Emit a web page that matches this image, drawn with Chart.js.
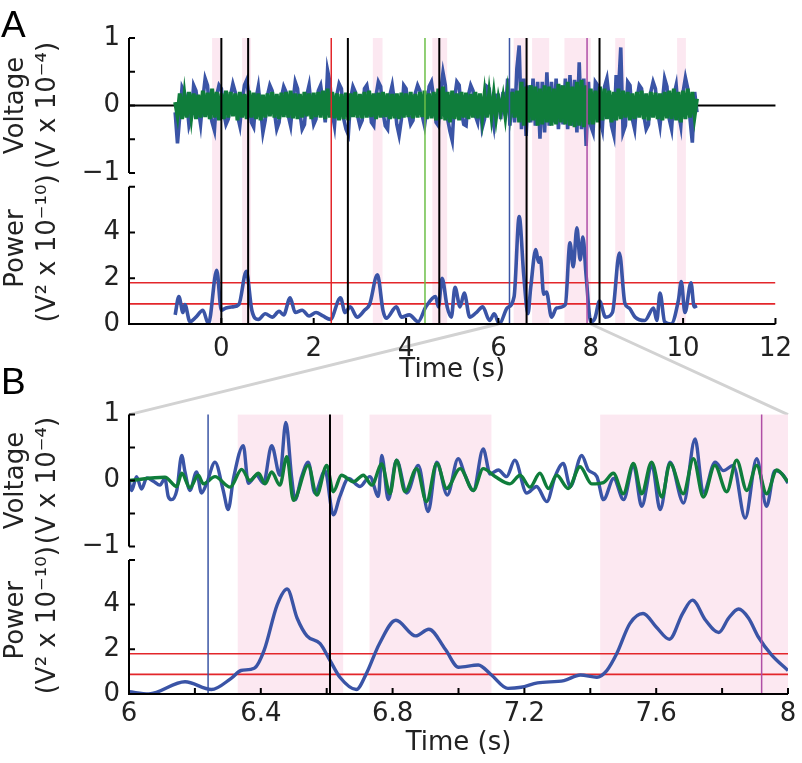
<!DOCTYPE html>
<html lang="en">
<head>
    <meta charset="UTF-8">
    <title>Voltage and power</title>
    <script src="https://cdn.jsdelivr.net/npm/chart.js"></script>
    <style>
        body { margin: 0; background: #fff; }
        #wrap { position: relative; width: 802px; height: 763px; overflow: hidden; }
        canvas { position: absolute; left: 0; }
        #links { top: 0; z-index: 0; }
        #chartA { top: 0; z-index: 1; }
        #chartB { top: 390px; z-index: 1; }
        .panel {
            position: absolute; left: 1px; z-index: 2;
            font-family: 'Liberation Sans', Arial, sans-serif; font-size: 37px; color: #000;
        }
    </style>
</head>
<body>
<div id="wrap">
    <canvas id="links" width="802" height="763"></canvas>
    <canvas id="chartA" width="802" height="390"></canvas>
    <canvas id="chartB" width="802" height="373"></canvas>
    <div class="panel" style="top:4px">A</div>
    <div class="panel" style="top:361px">B</div>
</div>
<script>
    // ---- data (time in s, voltage in 1e-4 V, power in 1e-10 V^2) ----
    const voltAStart = -1.0;
    const voltAStep = 0.05;
    const voltRawA = [
        -0.10,-0.56,-0.15,0.27,0.20,0.05,-0.30,-0.18,0.30,0.22,-0.05,-0.28,0.10,0.40,0.30,-0.10,-0.25,-0.37,0.15,0.30,
        0.25,-0.10,-0.28,-0.20,0.15,0.32,0.20,-0.15,-0.30,0.05,0.30,0.38,0.10,-0.25,-0.32,0.10,0.28,-0.05,-0.40,-0.22,
        0.15,0.30,0.22,-0.10,-0.35,-0.25,0.12,0.28,0.20,-0.15,-0.30,0.05,0.35,0.25,-0.10,-0.35,-0.28,0.15,0.30,-0.05,
        -0.28,-0.20,0.22,0.30,0.05,-0.25,0.52,0.35,-0.10,-0.30,0.15,0.32,0.25,-0.20,-0.35,-0.43,0.10,0.28,0.20,-0.15,
        -0.30,-0.22,0.25,0.30,0.10,-0.25,-0.30,0.15,0.35,0.28,-0.10,-0.30,-0.35,0.15,0.30,0.05,-0.28,-0.44,-0.20,0.30,
        0.25,-0.10,-0.28,-0.22,0.18,0.30,0.22,-0.15,-0.30,-0.05,0.28,0.35,0.10,-0.25,-0.30,0.20,0.49,0.30,-0.20,-0.38,
        -0.52,0.10,0.35,0.30,-0.10,-0.28,-0.30,0.15,0.30,0.22,-0.15,-0.25,0.10,-0.33,-0.20,0.28,0.25,-0.10,-0.30,0.15,
        0.15,-0.20,0.20,-0.15,0.40,-0.30,0.25,-0.25,0.55,0.89,-0.35,0.40,-0.45,0.30,-0.25,0.40,-0.30,0.35,-0.49,0.35,
        -0.40,0.49,-0.30,0.35,-0.25,0.40,-0.35,0.30,-0.28,0.40,-0.35,0.45,-0.30,0.38,-0.40,0.64,-0.35,0.40,-0.60,0.35,
        -0.30,-0.40,0.35,0.30,-0.20,-0.35,0.28,0.40,0.10,-0.30,-0.44,0.45,0.20,0.86,-0.40,-0.30,0.35,0.30,-0.20,-0.35,
        0.10,0.30,0.25,-0.15,-0.35,-0.28,0.20,0.35,0.25,-0.10,-0.30,0.05,0.40,0.28,-0.20,-0.35,0.15,0.30,-0.10,-0.30,
        0.20,0.41,0.25,-0.20,-0.55,0.20,-0.10
    ];
    const voltFiltA = [
        0.05,-0.15,0.18,-0.20,0.15,-0.18,0.20,-0.15,0.18,-0.20,0.16,-0.18,0.22,-0.17,0.19,-0.20,0.25,-0.18,0.20,-0.22,
        0.18,-0.20,0.22,-0.18,0.20,-0.16,0.18,-0.22,0.20,-0.18,0.17,-0.20,0.22,-0.18,0.19,-0.20,0.18,-0.22,0.16,-0.18,
        0.18,-0.16,0.20,-0.18,0.17,-0.20,0.19,-0.17,0.20,-0.18,0.22,-0.19,0.18,-0.20,0.17,-0.18,0.20,-0.16,0.18,-0.20,
        0.19,-0.17,0.20,-0.18,0.22,-0.20,0.25,-0.18,0.20,-0.19,0.18,-0.22,0.17,-0.20,0.19,-0.22,0.18,-0.17,0.20,-0.18,
        0.17,-0.19,0.20,-0.18,0.22,-0.17,0.18,-0.20,0.19,-0.18,0.20,-0.17,0.18,-0.20,0.17,-0.19,0.18,-0.20,0.19,-0.18,
        0.18,-0.17,0.20,-0.19,0.17,-0.18,0.20,-0.17,0.22,-0.20,0.18,-0.19,0.20,-0.22,0.25,-0.20,0.28,-0.22,0.20,-0.25,
        0.22,-0.20,0.18,-0.22,0.20,-0.18,0.19,-0.20,0.17,-0.18,0.20,-0.19,0.18,-0.17,0.16,-0.18,0.17,-0.15,0.16,-0.17,
        0.10,-0.08,0.12,-0.15,0.18,-0.12,0.20,-0.18,0.22,-0.25,0.35,-0.30,0.28,-0.25,0.30,-0.22,0.28,-0.30,0.25,-0.28,
        0.30,-0.25,0.28,-0.30,0.25,-0.28,0.32,-0.25,0.30,-0.28,0.35,-0.30,0.28,-0.32,0.35,-0.30,0.38,-0.32,0.30,-0.28,
        0.25,-0.28,0.22,-0.25,0.28,-0.22,0.25,-0.20,0.22,-0.25,0.20,-0.22,0.25,-0.20,0.22,-0.18,0.20,-0.22,0.18,-0.20,
        0.20,-0.18,0.22,-0.20,0.18,-0.22,0.20,-0.18,0.19,-0.20,0.18,-0.22,0.20,-0.19,0.22,-0.20,0.25,-0.22,0.20,-0.25,
        0.22,-0.20,0.25,-0.18,0.20,-0.15,0.10
    ];
    const powerATimes = [-1.0,-0.92,-0.83,-0.79,-0.68,-0.55,-0.4,-0.28,-0.1,0.0,0.1,0.25,0.38,0.54,0.66,0.8,0.95,1.1,1.25,1.35,
        1.49,1.6,1.75,1.9,2.05,2.2,2.36,2.58,2.68,2.79,2.94,3.1,3.21,3.38,3.5,3.57,3.79,3.9,4.07,4.26,
        4.43,4.64,4.7,4.78,4.89,4.98,5.06,5.17,5.26,5.38,5.52,5.66,5.81,5.91,6.02,6.19,6.34,6.45,6.55,6.64,
        6.7,6.81,6.87,6.91,6.98,7.04,7.15,7.26,7.45,7.55,7.62,7.7,7.77,7.83,7.9,8.0,8.09,8.19,8.32,8.47,
        8.62,8.74,8.83,8.96,9.17,9.36,9.43,9.5,9.6,9.74,9.9,9.96,10.04,10.17,10.24,10.3];
    const powerAValues = [0.4,1.2,0.5,0.85,0.1,0.3,0.6,0.0,2.35,0.6,0.7,0.75,0.85,2.3,0.6,0.2,0.45,0.3,0.55,0.4,
        1.15,0.5,0.6,0.35,0.5,0.35,0.2,1.15,0.5,0.75,0.3,0.6,0.85,2.15,0.6,0.25,0.75,0.3,0.4,0.1,
        0.75,1.2,0.75,2.0,0.75,0.3,1.6,0.75,1.35,0.3,0.5,0.75,0.15,0.45,0.0,0.7,1.2,4.7,2.1,0.45,
        1.6,3.25,2.7,2.9,1.3,1.4,0.3,0.7,0.85,3.55,2.5,4.2,2.8,3.8,2.1,0.1,0.25,1.0,0.3,0.5,
        3.1,0.9,0.7,0.3,0.15,0.7,0.15,1.35,0.1,0.0,1.05,1.85,0.5,1.8,0.75,0.8];

    const voltRawBTimes = [6.0,6.008,6.023,6.038,6.054,6.074,6.094,6.109,6.119,6.129,6.145,6.16,6.17,6.185,6.205,6.22,6.236,6.261,6.286,6.301,
        6.317,6.347,6.362,6.387,6.408,6.433,6.458,6.476,6.494,6.504,6.524,6.544,6.564,6.595,6.62,6.64,6.666,6.701,6.731,6.757,
        6.767,6.787,6.812,6.843,6.878,6.908,6.934,6.966,6.999,7.02,7.045,7.075,7.096,7.121,7.146,7.171,7.207,7.237,7.268,7.293,
        7.318,7.339,7.374,7.394,7.42,7.44,7.471,7.501,7.531,7.556,7.587,7.612,7.642,7.683,7.718,7.743,7.779,7.804,7.834,7.87,
        7.905,7.935,7.96,7.986,8.0];
    const voltRawBValues = [0.0,-0.15,0.06,-0.13,0.04,-0.01,-0.07,0.03,-0.24,-0.29,-0.15,0.38,0.13,-0.15,0.13,-0.19,-0.04,0.28,-0.15,-0.44,
        0.03,0.53,-0.04,0.08,-0.04,0.53,0.08,0.88,0.03,-0.29,0.06,0.28,-0.19,0.15,-0.52,-0.24,0.03,-0.09,0.06,-0.24,
        0.38,-0.29,0.31,-0.19,0.23,-0.47,0.28,-0.22,0.33,0.08,-0.15,0.48,0.10,0.16,0.06,0.31,-0.19,-0.09,-0.32,0.06,
        0.26,-0.09,0.38,0.16,0.06,-0.29,0.03,-0.29,0.23,-0.39,0.23,-0.44,0.28,-0.34,0.63,-0.19,0.28,0.15,0.23,-0.57,
        0.33,-0.39,0.15,0.08,-0.04];
    const voltFiltBTimes = [6.0,6.109,6.145,6.16,6.185,6.21,6.226,6.261,6.307,6.342,6.367,6.393,6.413,6.433,6.458,6.479,6.499,6.544,6.57,6.6,
        6.62,6.645,6.681,6.711,6.737,6.767,6.792,6.812,6.838,6.873,6.903,6.934,6.964,7.005,7.045,7.075,7.111,7.156,7.187,7.217,
        7.247,7.273,7.298,7.333,7.369,7.404,7.44,7.47,7.5,7.531,7.556,7.586,7.617,7.642,7.682,7.713,7.743,7.778,7.814,7.844,
        7.875,7.905,7.935,7.966,8.0];
    const voltFiltBValues = [0.0,0.05,-0.09,0.11,-0.11,0.08,-0.05,0.06,-0.10,0.17,0.0,0.11,-0.05,0.13,-0.07,0.36,-0.30,0.23,-0.22,0.23,
        -0.17,0.08,-0.02,0.08,-0.07,0.25,-0.20,0.31,-0.17,0.18,-0.32,0.26,-0.12,0.18,-0.15,0.18,0.06,-0.05,0.08,-0.10,
        0.11,-0.12,0.08,-0.12,0.21,-0.05,-0.03,0.11,-0.20,0.26,-0.20,0.28,-0.25,0.26,-0.20,0.33,-0.25,0.23,-0.17,0.31,
        -0.15,0.23,-0.20,0.16,-0.02];
    const powerBTimes = [6.0,6.06,6.17,6.25,6.31,6.34,6.38,6.41,6.45,6.48,6.51,6.54,6.58,6.61,6.64,6.69,6.72,6.76,6.81,6.87,
        6.91,6.96,7.0,7.06,7.1,7.15,7.19,7.24,7.32,7.37,7.42,7.45,7.48,7.52,7.56,7.6,7.64,7.68,7.71,7.75,
        7.79,7.82,7.85,7.88,7.91,7.95,8.0];
    const powerBValues = [0.1,0.0,0.55,0.2,0.7,1.05,1.15,1.95,4.0,4.7,3.4,2.6,2.25,1.5,0.75,0.2,0.9,2.25,3.3,2.6,
        2.9,2.0,1.2,1.3,0.85,0.25,0.3,0.5,0.6,0.85,0.75,1.05,1.8,3.15,3.6,3.0,2.45,3.6,4.2,3.3,
        2.75,3.4,3.8,3.4,2.55,1.75,1.05];

    const thresholds = [1.8, 0.88];
    const eventTimes = [0, 0.58, 2.38, 2.74, 4.41, 4.72, 6.24, 6.61, 7.92, 8.19];
    const eventColors = ['#000', '#000', '#e3262b', '#000', '#6cbf48', '#000', '#3b55a5', '#000', '#b04ea6', '#000'];
    const bands = [[-0.2, -0.02], [0.45, 0.64], [3.28, 3.49], [4.57, 4.89], [6.33, 6.65], [6.73, 7.1], [7.43, 8.0], [8.53, 8.74], [9.87, 10.06]];

    const xTicksA = [0, 2, 4, 6, 8, 10, 12];
    const xMarksA = [-2, 0, 2, 4, 6, 8, 10, 12];
    const xTicksB = [6, 6.4, 6.8, 7.2, 7.6, 8];
    const xMarksB = [6, 6.2, 6.4, 6.6, 6.8, 7, 7.2, 7.4, 7.6, 7.8, 8];
    const voltTicks = [-1, 0, 1];
    const voltMarks = [-1, -0.5, 0, 0.5, 1];
    const powerTicks = [0, 2, 4];
    const powerMarks = [0, 2, 4, 6];

    // ---- styling ----
    const BLUE = '#3a54a6';
    const GREEN = '#0f7d3b';
    const RED = '#e3262b';
    const PINK = '#fce8f1';
    const FONT = { family: "'DejaVu Sans', sans-serif", size: 26 };

    const pts = (xs, ys) => xs.map((x, i) => ({ x: x, y: ys[i] }));
    const evenPts = (start, step, ys) => ys.map((y, i) => ({ x: +(start + i * step).toFixed(3), y: y }));
    const minus = v => (v < 0 ? '\u2212' + Math.abs(v) : String(v));

    // bands, event lines and the hand-drawn axes
    const decor = {
        id: 'decor',
        beforeDatasetsDraw(chart, args, o) {
            const { ctx, chartArea: ca, scales } = chart;
            const x = scales.x;
            ctx.save();
            ctx.fillStyle = PINK;
            bands.forEach(([a, b]) => {
                const x0 = Math.max(x.getPixelForValue(a), ca.left);
                const x1 = Math.min(x.getPixelForValue(b), ca.right);
                if (x1 > x0) ctx.fillRect(x0, ca.top, x1 - x0, ca.bottom - ca.top);
            });
            if (o.zeroLine) {
                const y0 = scales.yV.getPixelForValue(0);
                ctx.strokeStyle = '#000';
                ctx.lineWidth = 2;
                ctx.beginPath();
                ctx.moveTo(ca.left, y0);
                ctx.lineTo(ca.right, y0);
                ctx.stroke();
            }
            ctx.restore();
        },
        afterDatasetsDraw(chart, args, o) {
            const { ctx, chartArea: ca, scales } = chart;
            const x = scales.x, yV = scales.yV, yP = scales.yP;
            ctx.save();
            eventTimes.forEach((t, i) => {
                if (t < x.min || t > x.max) return;
                const px = x.getPixelForValue(t);
                ctx.strokeStyle = eventColors[i];
                ctx.lineWidth = eventColors[i] === '#000' ? 2 : 1.5;
                ctx.beginPath();
                ctx.moveTo(px, ca.top);
                ctx.lineTo(px, ca.bottom);
                ctx.stroke();
            });
            ctx.strokeStyle = '#000';
            ctx.lineWidth = 2;
            ctx.beginPath();
            ctx.moveTo(ca.left, yV.getPixelForValue(1));
            ctx.lineTo(ca.left, yV.getPixelForValue(-1));
            ctx.moveTo(ca.left, yP.getPixelForValue(6));
            ctx.lineTo(ca.left, yP.getPixelForValue(0));
            ctx.lineTo(ca.right, yP.getPixelForValue(0));
            voltMarks.forEach(v => {
                const py = yV.getPixelForValue(v);
                ctx.moveTo(ca.left, py); ctx.lineTo(ca.left + 6, py);
            });
            powerMarks.forEach(v => {
                const py = yP.getPixelForValue(v);
                ctx.moveTo(ca.left, py); ctx.lineTo(ca.left + 6, py);
            });
            o.xMarks.forEach(v => {
                const px = x.getPixelForValue(v);
                ctx.moveTo(px, ca.bottom); ctx.lineTo(px, ca.bottom - 6);
            });
            ctx.stroke();
            ctx.restore();
        }
    };

    function makeScales(xMin, xMax, xTicks, xHeight, xPad) {
        const yAxis = (min, max, ticks, weight, title) => ({
            type: 'linear', position: 'left', stack: 'panel', stackWeight: weight,
            min: min, max: max,
            afterBuildTicks: s => { s.ticks = ticks.map(v => ({ value: v })); },
            afterFit: s => { s.width = 129; },
            grid: { display: false, drawTicks: false },
            border: { display: false },
            ticks: { font: FONT, color: '#222', padding: 9, callback: minus },
            title: { display: true, text: title, color: '#222', font: { ...FONT, lineHeight: 1.2 }, padding: { top: 1, bottom: 0 } }
        });
        return {
            x: {
                type: 'linear', min: xMin, max: xMax,
                afterBuildTicks: s => { s.ticks = xTicks.map(v => ({ value: v })); },
                afterFit: s => { s.height = xHeight; },
                grid: { display: false, drawTicks: false },
                border: { display: false },
                ticks: { font: FONT, color: '#222', padding: xPad, maxRotation: 0, callback: v => String(+v.toFixed(1)) },
                title: { display: true, text: 'Time (s)', color: '#222', font: FONT, padding: { top: 0, bottom: 4 } }
            },
            yP: yAxis(0, 6.6, powerTicks, 151, ['Power', '(V\u00b2 x 10\u207b\u00b9\u2070)']),
            yV: yAxis(-1, 1, voltTicks, 135, ['Voltage', '(V x 10\u207b\u2074)'])
        };
    }

    // lower dataset index is painted on top
    function lineSet(data, axis, color, width, smooth) {
        const d = { data: data, yAxisID: axis, borderColor: color, borderWidth: width, pointRadius: 0, fill: false };
        if (smooth) d.cubicInterpolationMode = 'monotone';
        return d;
    }

    function thresholdSets(xMin, xMax) {
        return thresholds.map(v => lineSet([{ x: xMin, y: v }, { x: xMax, y: v }], 'yP', RED, 1.6, false));
    }

    const commonPlugins = { legend: { display: false }, tooltip: { enabled: false } };

    const chartA = new Chart(document.getElementById('chartA'), {
        type: 'line',
        data: {
            datasets: [
                lineSet(evenPts(voltAStart, voltAStep, voltFiltA), 'yV', GREEN, 4, false),
                lineSet(evenPts(voltAStart, voltAStep, voltRawA), 'yV', BLUE, 3.6, false),
                lineSet(pts(powerATimes, powerAValues), 'yP', BLUE, 3.6, true),
                ...thresholdSets(-2, 12)
            ]
        },
        options: {
            responsive: false, animation: false,
            layout: { padding: { top: 38, right: 18, left: 0, bottom: 0 } },
            plugins: { ...commonPlugins, decor: { zeroLine: true, xMarks: xMarksA } },
            scales: makeScales(-2, 12, xTicksA, 66, 10)
        },
        plugins: [decor]
    });

    const chartB = new Chart(document.getElementById('chartB'), {
        type: 'line',
        data: {
            datasets: [
                lineSet(pts(voltFiltBTimes, voltFiltBValues), 'yV', GREEN, 3.4, true),
                lineSet(pts(voltRawBTimes, voltRawBValues), 'yV', BLUE, 3.4, true),
                lineSet(pts(powerBTimes, powerBValues), 'yP', BLUE, 3.4, true),
                ...thresholdSets(6, 8)
            ]
        },
        options: {
            responsive: false, animation: false,
            layout: { padding: { top: 20, right: 14, left: 0, bottom: 0 } },
            plugins: { ...commonPlugins, decor: { zeroLine: false, xMarks: xMarksB } },
            scales: makeScales(6, 8, xTicksB, 69, 5)
        },
        plugins: [decor]
    });

    // grey zoom lines linking 6-8 s in A to panel B
    (function drawLinks() {
        const c = document.getElementById('links').getContext('2d');
        const offB = 390;
        const yA = chartA.scales.yP.getPixelForValue(0);
        const yB = offB + chartB.chartArea.top;
        c.strokeStyle = '#d2d2d2';
        c.lineWidth = 3;
        c.beginPath();
        c.moveTo(chartA.scales.x.getPixelForValue(6), yA);
        c.lineTo(chartB.chartArea.left, yB);
        c.moveTo(chartA.scales.x.getPixelForValue(8), yA);
        c.lineTo(chartB.chartArea.right, yB);
        c.stroke();
    })();
</script>
</body>
</html>
